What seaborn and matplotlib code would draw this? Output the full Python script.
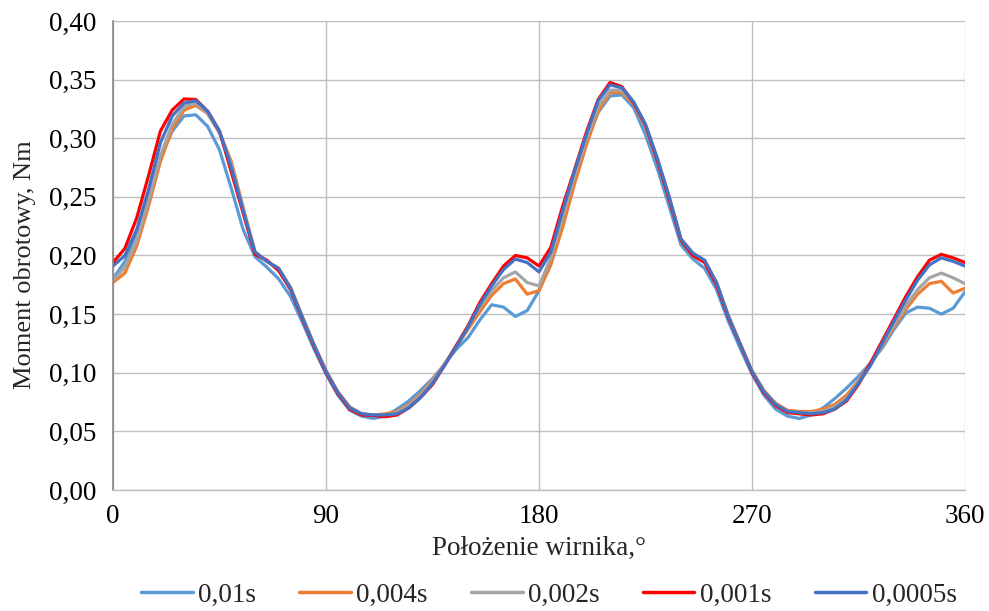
import matplotlib
matplotlib.use("Agg")
import matplotlib.pyplot as plt
from matplotlib.lines import Line2D
import seaborn as sns
import pandas as pd

angle = list(range(0, 361, 5))

s_001 = [0.180, 0.195, 0.220, 0.252, 0.283, 0.306, 0.319, 0.320, 0.310, 0.290,
         0.257, 0.222, 0.199, 0.190, 0.180, 0.165, 0.143, 0.120, 0.099, 0.081,
         0.068, 0.063, 0.061, 0.063, 0.069, 0.076, 0.085, 0.095, 0.107, 0.120,
         0.130, 0.145, 0.158, 0.156, 0.148, 0.153, 0.170, 0.197, 0.234, 0.268,
         0.297, 0.322, 0.336, 0.337, 0.326, 0.303, 0.274, 0.242, 0.209, 0.197,
         0.189, 0.171, 0.144, 0.121, 0.099, 0.081, 0.069, 0.063, 0.061, 0.064,
         0.070, 0.078, 0.087, 0.097, 0.108, 0.121, 0.137, 0.151, 0.156, 0.155,
         0.150, 0.155, 0.169]

s_0004 = [0.177, 0.185, 0.208, 0.242, 0.280, 0.308, 0.324, 0.328, 0.321, 0.305,
          0.280, 0.241, 0.203, 0.195, 0.189, 0.173, 0.148, 0.124, 0.102, 0.084,
          0.071, 0.065, 0.064, 0.065, 0.067, 0.073, 0.082, 0.094, 0.107, 0.122,
          0.137, 0.152, 0.166, 0.176, 0.180, 0.167, 0.170, 0.192, 0.224, 0.261,
          0.294, 0.323, 0.339, 0.339, 0.329, 0.309, 0.282, 0.250, 0.214, 0.202,
          0.195, 0.177, 0.149, 0.125, 0.102, 0.085, 0.074, 0.068, 0.067, 0.067,
          0.069, 0.073, 0.081, 0.093, 0.107, 0.123, 0.139, 0.154, 0.167, 0.176,
          0.178, 0.168, 0.172]

s_0002 = [0.179, 0.190, 0.213, 0.247, 0.285, 0.312, 0.327, 0.330, 0.321, 0.304,
          0.278, 0.239, 0.202, 0.195, 0.188, 0.172, 0.147, 0.123, 0.101, 0.083,
          0.070, 0.065, 0.064, 0.064, 0.066, 0.072, 0.081, 0.093, 0.107, 0.123,
          0.139, 0.156, 0.170, 0.181, 0.186, 0.177, 0.174, 0.198, 0.232, 0.268,
          0.299, 0.327, 0.341, 0.341, 0.330, 0.309, 0.281, 0.249, 0.213, 0.201,
          0.195, 0.176, 0.148, 0.124, 0.101, 0.084, 0.073, 0.067, 0.066, 0.066,
          0.067, 0.071, 0.078, 0.092, 0.106, 0.124, 0.141, 0.157, 0.171, 0.181,
          0.185, 0.181, 0.176]

s_0001 = [0.194, 0.206, 0.232, 0.268, 0.306, 0.324, 0.3335, 0.333, 0.323, 0.306,
          0.271, 0.236, 0.201, 0.196, 0.187, 0.171, 0.146, 0.122, 0.100, 0.082,
          0.069, 0.064, 0.0635, 0.0625, 0.064, 0.070, 0.079, 0.090, 0.106, 0.123,
          0.140, 0.160, 0.176, 0.191, 0.200, 0.198, 0.191, 0.207, 0.242, 0.273,
          0.305, 0.333, 0.3475, 0.344, 0.330, 0.311, 0.281, 0.248, 0.213, 0.200,
          0.194, 0.175, 0.147, 0.124, 0.100, 0.083, 0.072, 0.066, 0.065, 0.064,
          0.065, 0.069, 0.076, 0.090, 0.108, 0.127, 0.146, 0.165, 0.182, 0.196,
          0.201, 0.198, 0.194]

s_00005 = [0.191, 0.200, 0.222, 0.256, 0.296, 0.319, 0.330, 0.332, 0.323, 0.306,
           0.275, 0.238, 0.203, 0.195, 0.189, 0.172, 0.147, 0.123, 0.101, 0.083,
           0.070, 0.065, 0.064, 0.064, 0.065, 0.070, 0.079, 0.091, 0.106, 0.122,
           0.139, 0.158, 0.174, 0.188, 0.197, 0.194, 0.186, 0.203, 0.238, 0.272,
           0.303, 0.332, 0.3455, 0.343, 0.331, 0.312, 0.283, 0.250, 0.214, 0.202,
           0.196, 0.177, 0.148, 0.124, 0.101, 0.084, 0.073, 0.067, 0.066, 0.065,
           0.066, 0.069, 0.077, 0.091, 0.106, 0.125, 0.144, 0.162, 0.179, 0.192,
           0.198, 0.195, 0.191]

series_names = ["0,01s", "0,004s", "0,002s", "0,001s", "0,0005s"]
series_values = [s_001, s_0004, s_0002, s_0001, s_00005]
colors = ["#5B9BD5", "#ED7D31", "#A5A5A5", "#FF0000", "#4472C4"]

x_ticks = [0, 90, 180, 270, 360]
x_tick_labels = ["0", "90", "180", "270", "360"]
y_ticks = [0.00, 0.05, 0.10, 0.15, 0.20, 0.25, 0.30, 0.35, 0.40]
y_tick_labels = ["0,00", "0,05", "0,10", "0,15", "0,20", "0,25", "0,30", "0,35", "0,40"]

rows = []
for name, vals in zip(series_names, series_values):
    for a, v in zip(angle, vals):
        rows.append({"angle": a, "torque": v, "series": name})
df = pd.DataFrame(rows)

sns.set_style("white")
plt.rcParams["font.family"] = ["Liberation Serif", "DejaVu Serif"]

fig = plt.figure(figsize=(9.89, 6.11), dpi=100)
ax = fig.add_axes([0.1143, 0.198, 0.8614, 0.7677])

sns.lineplot(data=df, x="angle", y="torque", hue="series", hue_order=series_names,
             palette=colors, linewidth=2.3, ax=ax, sort=False, legend=False)

ax.set_xlim(0, 360)
ax.set_ylim(0, 0.40)
ax.set_xticks(x_ticks)
ax.set_xticklabels(x_tick_labels)
ax.set_yticks(y_ticks)
ax.set_yticklabels(y_tick_labels)
ax.tick_params(axis="y", length=0, labelsize=19.5, colors="#000000", pad=12)
ax.tick_params(axis="x", length=0, labelsize=19.5, colors="#000000", pad=10)
ax.grid(True, color="#BFBFBF", linewidth=1.0)
ax.set_axisbelow(True)
for s in ["top", "right"]:
    ax.spines[s].set_visible(False)
ax.spines["left"].set_color("#868686")
ax.spines["bottom"].set_color("#BFBFBF")
ax.spines["left"].set_linewidth(1.2)
ax.spines["bottom"].set_linewidth(1.0)

ax.set_xlabel("Położenie wirnika,°", fontsize=19.5)
ax.set_ylabel("Moment obrotowy, Nm", fontsize=19)
ax.xaxis.set_label_coords(0.5, -0.098)
ax.yaxis.set_label_coords(-0.090, 0.48)

handles = [Line2D([0], [0], color=c, linewidth=2.5) for c in colors]
fig.legend(handles, series_names, loc="center", bbox_to_anchor=(0.555, 0.026),
           ncol=5, frameon=False, fontsize=19.5, handlelength=1.9,
           columnspacing=1.6, handletextpad=0.2)

fig.savefig("out.png", dpi=100)
